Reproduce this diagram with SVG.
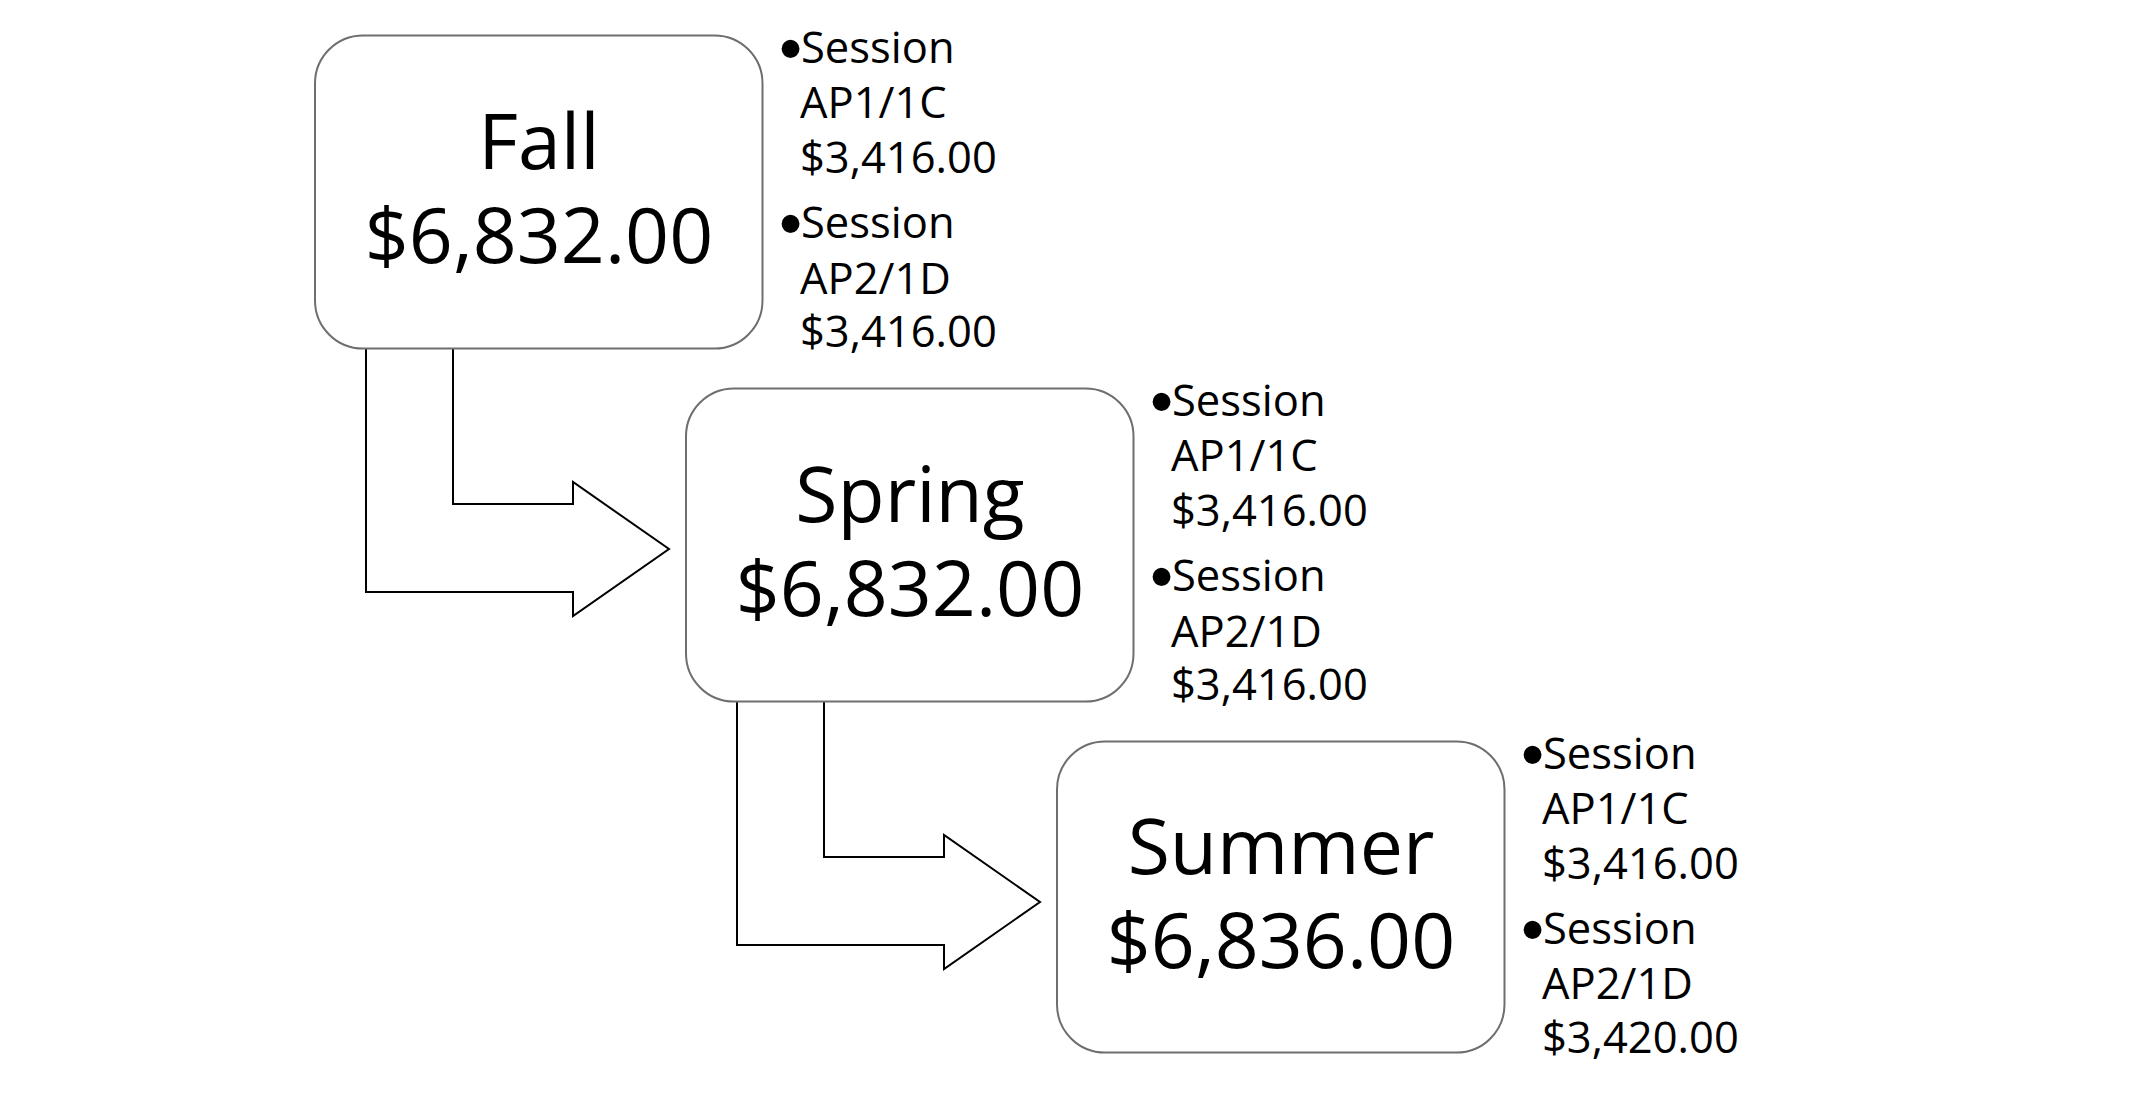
<svg xmlns="http://www.w3.org/2000/svg" width="2145" height="1098" viewBox="0 0 2145 1098">
<style>
.box{fill:#ffffff;stroke:#6e6e6e;stroke-width:2}
.arrow{fill:#ffffff;stroke:#000000;stroke-width:2;stroke-linejoin:miter}
.title{font-family:"Open Sans","Noto Sans",sans-serif;font-size:77px;fill:#000000;text-anchor:middle}
.item{font-family:"Open Sans","Noto Sans",sans-serif;font-size:43.5px;fill:#000000}
.bul{font-family:"Liberation Sans",Arial,sans-serif;font-size:66px}
</style>
<rect width="2145" height="1098" fill="#ffffff"/>
<g id="connectors">
<path class="arrow" d="M366,349 V592 H573 V616 L669,549 L573,482 V504 H453 V349"/>
<path class="arrow" d="M737,702 V945 H944 V969 L1040,902 L944,835 V857 H824 V702"/>
</g>
<g id="fall">
<rect class="box" x="315" y="35.5" width="447.5" height="313" rx="48" ry="48"/>
<text class="title"><tspan x="539" y="169">Fall</tspan><tspan x="539" y="263">$6,832.00</tspan></text>
<text class="item"><tspan class="bul" x="779" y="71">•</tspan><tspan x="801" y="63">Session</tspan><tspan x="800" y="118">AP1/1C</tspan><tspan x="800" y="173">$3,416.00</tspan><tspan class="bul" x="779" y="246">•</tspan><tspan x="801" y="238">Session</tspan><tspan x="800" y="294">AP2/1D</tspan><tspan x="800" y="347">$3,416.00</tspan></text>
</g>
<g id="spring">
<rect class="box" x="686" y="388.5" width="447.5" height="313" rx="48" ry="48"/>
<text class="title"><tspan x="910" y="522">Spring</tspan><tspan x="910" y="616">$6,832.00</tspan></text>
<text class="item"><tspan class="bul" x="1150" y="424">•</tspan><tspan x="1172" y="416">Session</tspan><tspan x="1171" y="471">AP1/1C</tspan><tspan x="1171" y="526">$3,416.00</tspan><tspan class="bul" x="1150" y="599">•</tspan><tspan x="1172" y="591">Session</tspan><tspan x="1171" y="647">AP2/1D</tspan><tspan x="1171" y="700">$3,416.00</tspan></text>
</g>
<g id="summer">
<rect class="box" x="1057" y="741.5" width="447.5" height="311" rx="48" ry="48"/>
<text class="title"><tspan x="1281" y="874">Summer</tspan><tspan x="1281" y="968">$6,836.00</tspan></text>
<text class="item"><tspan class="bul" x="1521" y="777">•</tspan><tspan x="1543" y="769">Session</tspan><tspan x="1542" y="824">AP1/1C</tspan><tspan x="1542" y="879">$3,416.00</tspan><tspan class="bul" x="1521" y="952">•</tspan><tspan x="1543" y="944">Session</tspan><tspan x="1542" y="999">AP2/1D</tspan><tspan x="1542" y="1053">$3,420.00</tspan></text>
</g>
</svg>
